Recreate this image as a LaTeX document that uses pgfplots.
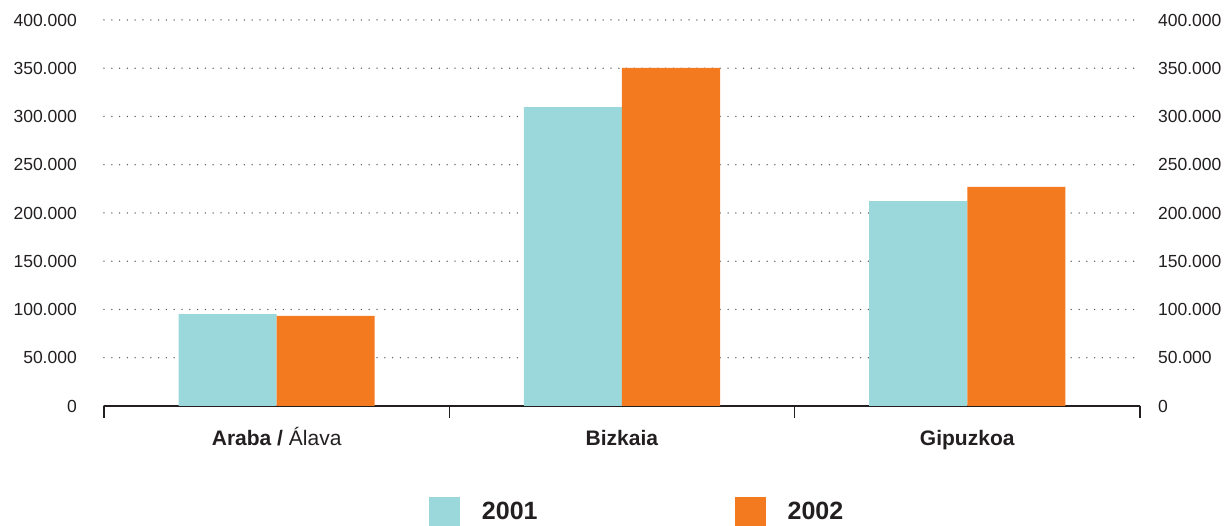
\documentclass[border=0pt]{standalone}
\usepackage{fontspec}
\setmainfont{Liberation Sans}
\usepackage{pgfplots}
\pgfplotsset{compat=1.18}
\definecolor{c01}{HTML}{9BD8DB}
\definecolor{c02}{HTML}{F47A20}
\definecolor{txt}{HTML}{231F20}
\definecolor{gridc}{HTML}{58595B}

\pgfplotsset{
  common/.style={
    scale only axis, width=1036pt, height=386pt,
    xmin=-0.5, xmax=2.5, ymin=0, ymax=400000,
    ytick={0,50000,100000,150000,200000,250000,300000,350000,400000},
    scaled y ticks=false,
    /pgf/number format/fixed,
    /pgf/number format/1000 sep={.},
    /pgf/number format/assume math mode=true,
    yticklabel style={font=\fontsize{17.5}{17.5}\selectfont, text=txt, inner sep=0pt},
    major tick length=0pt,
  }
}

\begin{document}
\begin{tikzpicture}
\begin{axis}[common,
  axis x line*=bottom, axis y line*=left,
  y axis line style={draw=none},
  x axis line style={-, line width=2.2pt, txt},
  ymajorgrids,
  grid style={gridc, line width=1.5pt, line cap=round, dash pattern=on 0pt off 7.8pt},
  xtick={0,1,2},
  xticklabels={{\textbf{Araba /} Álava},{\textbf{Bizkaia}},{\textbf{Gipuzkoa}}},
  xticklabel style={font=\fontsize{21}{21}\selectfont, text=txt, inner sep=0pt, text height=15pt, text depth=4.5pt, yshift=-24pt},
  minor xtick={-0.5,0.5,1.5,2.5}, minor tick length=12pt, tick align=outside,
  minor x tick style={line width=1.3pt, txt},
  yticklabel style={xshift=-27pt},
  ybar=0pt, bar width=0.284,
  legend columns=2,
  legend style={at={(0.3137,-0.2358)}, anchor=north west, draw=none, fill=none,
    inner sep=0pt, outer sep=0pt,
    font=\fontsize{25}{25}\selectfont\bfseries, text=txt,
    nodes={inner sep=0pt, outer sep=0pt},
    /tikz/every even column/.append style={column sep=197pt}},
  legend image code/.code={\path[#1, draw=none] (0pt,-14.5pt) rectangle (31pt,14.5pt); \path (53pt,0pt);},
]
\addplot[fill=c01, draw=none] coordinates {(0,95300) (1,309800) (2,212400)};
\addplot[fill=c02, draw=none] coordinates {(0,93300) (1,350500) (2,227000)};
\legend{2001,2002}
\end{axis}
\begin{axis}[common, hide x axis,
  axis y line*=right, y axis line style={draw=none},
  yticklabel pos=right,
  yticklabel style={xshift=18pt},
]
\addplot[draw=none] coordinates {(0,0)};
\end{axis}
\pgfresetboundingbox
\path[use as bounding box] (-104pt,-120pt) rectangle ++(1226pt,526pt);
\end{tikzpicture}
\end{document}
